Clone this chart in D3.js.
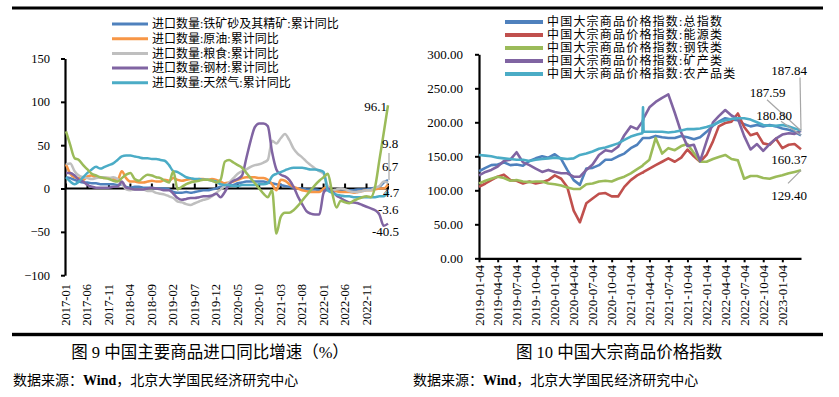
<!DOCTYPE html>
<html>
<head>
<meta charset="utf-8">
<script src="https://cdn.jsdelivr.net/npm/d3@7"></script>
<style>
  body { margin: 0; background: #fff; }
  text { font-family: "Liberation Serif", "Noto Sans CJK SC", serif; fill: #000; }
</style>
<title>中国主要商品进口同比增速 / 中国大宗商品价格指数</title>
</head>
<body>
<script>
// ---------- data: 图9 进口同比 (monthly, 2017-01 .. 2023-04) ----------
var importMonths = d3.timeMonth.range(new Date(2017, 0, 1), new Date(2023, 4, 1)).map(d3.timeFormat("%Y-%m"));
var importTickLabels = ["2017-01", "2017-06", "2017-11", "2018-04", "2018-09", "2019-02", "2019-07", "2019-12",
  "2020-05", "2020-10", "2021-03", "2021-08", "2022-01", "2022-06", "2022-11"];
var importNames = ["进口数量:铁矿砂及其精矿:累计同比", "进口数量:原油:累计同比", "进口数量:粮食:累计同比",
  "进口数量:钢材:累计同比", "进口数量:天然气:累计同比"];

var ironOre = [13,12,10,8,7,7,6,6,5,5, 5,5,4,5,2,1,2,2,1,1, 1,0,0,0,-1,-4,-5,-5,-4,-5,
  -4,-3,-2,-2,-1,0,2,2,3,4, 6,7,8,8,8,8,8,7,6,5, 4,3,2,1,0,0,-1,-1,-1,-2,
  -2,-2,-3,-3,-3,-2,-2,-2,-1,-1, -1,0,1,2,7,9.8];
var crudeOil = [28,17,13,12,10,14,15,13,13,12, 12,11,10,20,12,8,8,7,7,8, 9,8,8,10,9,12,10,9,10,11,
  10,11,11,10,11,10,8,6,7,8, 10,12,13,13,13,12,12,10,5,-2, 10,9,5,2,0,-2,-3,-4,-4,-4,
  0,2,-2,-3,-4,-4,-4,-5,-4,-3, -2,-2,-1,0,0,4.7];
var grain = [28,29,20,15,13,12,11,12,13,13, 12,13,11,6,-1,-2,-1,-1,-1,-3, -3,-5,-6,-7,-9,-11,-15,-16,-18,-19,
  -17,-15,-13,-12,-9,-5,-1,3,7,12, 17,20,22,25,27,28,30,33,55,52, 58,63,56,46,40,36,31,27,23,20,
  17,2,-2,-1,0,-1,-3,-4,-4,-3, -2,-2,1,3,8,6.7];
var steel = [18,18,15,10,8,4,2,1,1,1, 1,2,2,8,1,0,-1,-1,-1,0, 1,0,-1,-2,-2,-6,-11,-13,-12,-11,
  -11,-10,-9,-9,-8,-6,-10,-4,5,9, 11,15,35,55,71,75,75,72,42,22, 16,14,10,2,-9,-18,-26,-29,-30,-30,
  -5,0,-3,-8,-11,-14,-16,-16,-17,-19, -21,-23,-25,-30,-43,-40.5];
var natGas = [13,8,5,8,13,18,22,25,23,25, 27,29,33,37,38,38,37,36,35,35, 34,34,33,32,27,20,19,16,13,12,
  11,11,10,10,9,8,5,4,4,3, 3,4,4,4,4,5,5,6,14,17, 19,21,23,24,24,24,23,22,22,21,
  19,-2,-5,-7,-8,-9,-9,-10,-10,-10, -10,-10,-10,-9,-9,-3.6];
// sixth series shown in the chart without a legend entry
var extraSeries = [66,50,35,33,27,22,17,15,13,12, 11,9,8,12,16,18,11,9,13,16, 15,13,12,9,7,20,-1,2,5,7,
  8,9,10,10,9,7,10,31,33,30, 27,24,18,12,6,0,-6,-10,-2,-52, -33,-28,-28,-25,-20,-14,-8,-2,4,9,
  13,17,-5,-22,-14,-16,-17,-14,-12,-10, -9,-10,2,33,64,96.1];

// ---------- data: 图10 大宗商品价格指数 ----------
var priceDates = ["2019-01-04","2019-02-04","2019-03-04","2019-04-04","2019-05-04","2019-06-04","2019-07-04","2019-08-04",
  "2019-09-04","2019-10-04","2019-11-04","2019-12-04","2020-01-04","2020-02-04","2020-03-04","2020-04-04","2020-05-04",
  "2020-06-04","2020-07-04","2020-08-04","2020-09-04","2020-10-04","2020-11-04","2020-12-04","2021-01-04","2021-02-04",
  "2021-03-01","2021-03-04","2021-03-07",
  "2021-04-04","2021-05-04","2021-06-04","2021-07-04","2021-08-04","2021-09-04","2021-10-04","2021-11-04","2021-12-04",
  "2022-01-04","2022-02-04","2022-03-04","2022-04-04","2022-05-04","2022-06-04","2022-07-04","2022-08-04","2022-09-04",
  "2022-10-04","2022-11-04","2022-12-04","2023-01-04","2023-02-04","2023-03-04","2023-04-04"];
var priceTickLabels = ["2019-01-04","2019-04-04","2019-07-04","2019-10-04","2020-01-04","2020-04-04","2020-07-04",
  "2020-10-04","2021-01-04","2021-04-04","2021-07-04","2021-10-04","2022-01-04","2022-04-04","2022-07-04","2022-10-04","2023-01-04"];
var priceNames = ["中国大宗商品价格指数:总指数", "中国大宗商品价格指数:能源类", "中国大宗商品价格指数:钢铁类",
  "中国大宗商品价格指数:矿产类", "中国大宗商品价格指数:农产品类"];

var priceTotal = [128,133,137,138,141,137,138,136,143,147,150,148,153,146,130,115,108,132,133,137,145,145,150,154,162,167,
  176,177,177,
  177,180,178,177,177,180,178,175,178,186,195,201,206,204,203,197,194,196,194,196,194,191,189,186,180.80];
var priceEnergy = [105,110,115,120,123,115,114,110,113,110,112,115,122,117,105,70,53,81,88,95,96,91,91,105,115,122,
  126,126,127,
  132,137,142,147,142,148,160,150,142,152,172,194,199,201,213,193,181,184,169,167,176,162,167,168,160.37];
var priceSteel = [110,114,117,120,118,114,115,113,112,113,113,110,109,107,104,102,102,109,110,113,114,113,117,120,125,131,
  136,137,138,
  145,177,154,162,159,165,168,155,142,142,146,149,152,146,144,117,121,121,118,117,120,122,125,127,129.40];
var priceMineral = [122,127,130,135,143,145,156,141,137,132,127,130,127,125,125,120,120,130,138,152,159,157,164,181,194,190,
  201,203,206,
  222,230,236,241,214,185,165,167,143,172,200,209,218,210,205,180,160,168,158,168,176,182,184,183,187.59];
var priceAgri = [152,151,150,148,147,146,145,145,143,145,146,147,148,147,146,147,152,154,157,161,163,166,169,174,179,182,
  184,222,186,
  186,186,186,185,186,188,190,190,191,193,196,200,203,205,206,206,204,200,196,195,195,196,194,191,187.84];

// ---------- page ----------
var width = 839;
var height = 397;

var svg = d3.select("body").append("svg")
  .attr("width", width)
  .attr("height", height);

// frame rules top and bottom
svg.append("rect").attr("x", 12).attr("y", 6.5).attr("width", 811).attr("height", 3).attr("fill", "#000");
svg.append("rect").attr("x", 12).attr("y", 332.8).attr("width", 811).attr("height", 3.4).attr("fill", "#000");

// ================= left chart =================
var leftColors = ["#4f81bd", "#f79646", "#bfbfbf", "#8064a2", "#4bacc6", "#9bbb59"];
var leftSeries = [ironOre, crudeOil, grain, steel, natGas, extraSeries];

var xL = d3.scalePoint().domain(importMonths).range([66, 388]);
var yL = d3.scaleLinear().domain([-100, 150]).range([275.2, 58.5]);

// y axis
var yAxisL = d3.axisLeft(yL).tickValues([-100, -50, 0, 50, 100, 150]).tickSize(4).tickSizeOuter(0).tickPadding(11);
var gyL = svg.append("g").attr("transform", "translate(65,0)").call(yAxisL);
gyL.select(".domain").attr("stroke-width", 2.2);
gyL.selectAll(".tick line").attr("stroke-width", 2);
gyL.selectAll(".tick text").style("font-size", "12.5px").style("font-family", "Liberation Serif");

// zero line with upward ticks every 5 months
var tickIdxL = d3.range(0, importMonths.length, 5);
svg.append("line")
  .attr("x1", 65).attr("x2", xL(importMonths[importMonths.length - 1]) + 1)
  .attr("y1", yL(0)).attr("y2", yL(0))
  .attr("stroke", "#000").attr("stroke-width", 2.2);
svg.selectAll(".tickL").data(tickIdxL).enter().append("line")
  .attr("x1", function(d) { return xL(importMonths[d]); })
  .attr("x2", function(d) { return xL(importMonths[d]); })
  .attr("y1", yL(0)).attr("y2", yL(0) - 5)
  .attr("stroke", "#000").attr("stroke-width", 2);

// x labels at the bottom (low position)
svg.selectAll(".xlabL").data(importTickLabels).enter().append("text")
  .attr("transform", function(d) { return "translate(" + (xL(d) + 4) + ",284) rotate(-90)"; })
  .attr("text-anchor", "end")
  .style("font-size", "12.5px")
  .text(function(d) { return d; });

// lines
var lineL = d3.line()
  .x(function(d, i) { return xL(importMonths[i]); })
  .y(function(d) { return yL(d); })
  .curve(d3.curveMonotoneX);

svg.selectAll(".seriesL").data(leftSeries).enter().append("path")
  .attr("d", function(d) { return lineL(d); })
  .attr("fill", "none")
  .attr("stroke", function(d, i) { return leftColors[i]; })
  .attr("stroke-width", 2.5)
  .attr("stroke-linejoin", "round");

// end labels
var lastL = importMonths.length - 1;
var leftEndLabels = [
  { s: 5, text: "96.1", dx: -1, dy: 1, anchor: "end" },
  { s: 0, text: "9.8", dx: -6, dy: -37, anchor: "start", lead: [1, -27] },
  { s: 2, text: "6.7", dx: -6, dy: -16, anchor: "start" },
  { s: 1, text: "4.7", dx: -5, dy: 8, anchor: "start" },
  { s: 4, text: "-3.6", dx: -10, dy: 18, anchor: "start" },
  { s: 3, text: "-40.5", dx: -16, dy: 8, anchor: "start" }
];
leftEndLabels.forEach(function(l) {
  var ex = xL(importMonths[lastL]), ey = yL(leftSeries[l.s][lastL]);
  if (l.lead) {
    svg.append("line").attr("x1", ex + l.lead[0]).attr("y1", ey + l.lead[1])
      .attr("x2", ex + 1).attr("y2", ey).attr("stroke", "#a6a6a6").attr("stroke-width", 1.2);
  }
  svg.append("text")
    .attr("x", ex + l.dx).attr("y", ey + l.dy)
    .attr("dy", "0.35em")
    .attr("text-anchor", l.anchor)
    .style("font-size", "13px")
    .text(l.text);
});

// legend (5 entries)
var legL = svg.selectAll(".legL").data(importNames).enter().append("g")
  .attr("transform", function(d, i) { return "translate(112," + (24 + i * 14.7) + ")"; });
legL.append("line").attr("x1", 0).attr("x2", 36).attr("y1", 0).attr("y2", 0)
  .attr("stroke", function(d, i) { return leftColors[i]; }).attr("stroke-width", 3);
legL.append("text").attr("x", 40).attr("dy", "0.35em")
  .style("font-size", "12px")
  .text(function(d) { return d; });

// ================= right chart =================
var parseDate = d3.timeParse("%Y-%m-%d");
var rightColors = ["#4f81bd", "#c0504d", "#9bbb59", "#8064a2", "#4bacc6"];
var rightSeries = [priceTotal, priceEnergy, priceSteel, priceMineral, priceAgri];
var dates = priceDates.map(parseDate);

var xR = d3.scaleTime().domain([parseDate("2019-01-04"), parseDate("2023-04-04")]).range([479, 801]);
var yR = d3.scaleLinear().domain([0, 300]).range([258.3, 54.3]);

var yAxisR = d3.axisLeft(yR).ticks(6).tickFormat(d3.format(".2f")).tickSize(4).tickSizeOuter(0).tickPadding(12);
var gyR = svg.append("g").attr("transform", "translate(479,0)").call(yAxisR);
gyR.select(".domain").attr("stroke-width", 2.2);
gyR.selectAll(".tick line").attr("stroke-width", 2);
gyR.selectAll(".tick text").style("font-size", "13px").style("font-family", "Liberation Serif");

var xAxisR = d3.axisBottom(xR).tickValues(priceTickLabels.map(parseDate)).tickSize(4).tickSizeOuter(0).tickFormat("");
var gxR = svg.append("g").attr("transform", "translate(0," + yR(0) + ")").call(xAxisR);
gxR.select(".domain").attr("stroke-width", 2.2);
gxR.selectAll(".tick line").attr("stroke-width", 2);

svg.selectAll(".xlabR").data(priceTickLabels).enter().append("text")
  .attr("transform", function(d) { return "translate(" + (xR(parseDate(d)) + 4.5) + ",265) rotate(-90)"; })
  .attr("text-anchor", "end")
  .style("font-size", "13px")
  .text(function(d) { return d; });

var lineR = d3.line()
  .x(function(d, i) { return xR(dates[i]); })
  .y(function(d) { return yR(d); });

svg.selectAll(".seriesR").data(rightSeries).enter().append("path")
  .attr("d", function(d) { return lineR(d); })
  .attr("fill", "none")
  .attr("stroke", function(d, i) { return rightColors[i]; })
  .attr("stroke-width", 2.6)
  .attr("stroke-linejoin", "round");

var lastR = priceDates.length - 1;
var rightEndLabels = [
  { s: 4, text: "187.84", dx: -12, dy: -60.5, lead: [-1, -53] },
  { s: 3, text: "187.59", dx: -33.5, dy: -38.7, lead: [-34, -31] },
  { s: 0, text: "180.80", dx: -27, dy: -20, lead: [-20, -14] },
  { s: 1, text: "160.37", dx: -12, dy: 10 },
  { s: 2, text: "129.40", dx: -12, dy: 25, lead: [-13, 13] }
];
rightEndLabels.forEach(function(l) {
  var ex = xR(dates[lastR]), ey = yR(rightSeries[l.s][lastR]);
  if (l.lead) {
    svg.append("line").attr("x1", ex + l.lead[0]).attr("y1", ey + l.lead[1])
      .attr("x2", ex).attr("y2", ey).attr("stroke", "#a6a6a6").attr("stroke-width", 1.2);
  }
  svg.append("text")
    .attr("x", ex + l.dx).attr("y", ey + l.dy)
    .attr("dy", "0.35em")
    .attr("text-anchor", "middle")
    .style("font-size", "13px")
    .text(l.text);
});

var legR = svg.selectAll(".legR").data(priceNames).enter().append("g")
  .attr("transform", function(d, i) { return "translate(505," + (22 + i * 13) + ")"; });
legR.append("line").attr("x1", 0).attr("x2", 38).attr("y1", 0).attr("y2", 0)
  .attr("stroke", function(d, i) { return rightColors[i]; }).attr("stroke-width", 4);
legR.append("text").attr("x", 42).attr("dy", "0.35em")
  .style("font-size", "12px").style("letter-spacing", "1.2px")
  .text(function(d) { return d; });

// ================= captions =================
svg.append("text").attr("x", 210).attr("y", 358).attr("text-anchor", "middle")
  .style("font-size", "16.5px").text("图 9 中国主要商品进口同比增速（%）");
svg.append("text").attr("x", 619).attr("y", 358).attr("text-anchor", "middle")
  .style("font-size", "16.5px").text("图 10 中国大宗商品价格指数");

[13, 413].forEach(function(x0) {
  var t = svg.append("text").attr("x", x0).attr("y", 385).style("font-size", "14px");
  t.append("tspan").text("数据来源：");
  t.append("tspan").style("font-weight", "bold").text("Wind");
  t.append("tspan").text("，北京大学国民经济研究中心");
});
</script>
</body>
</html>
